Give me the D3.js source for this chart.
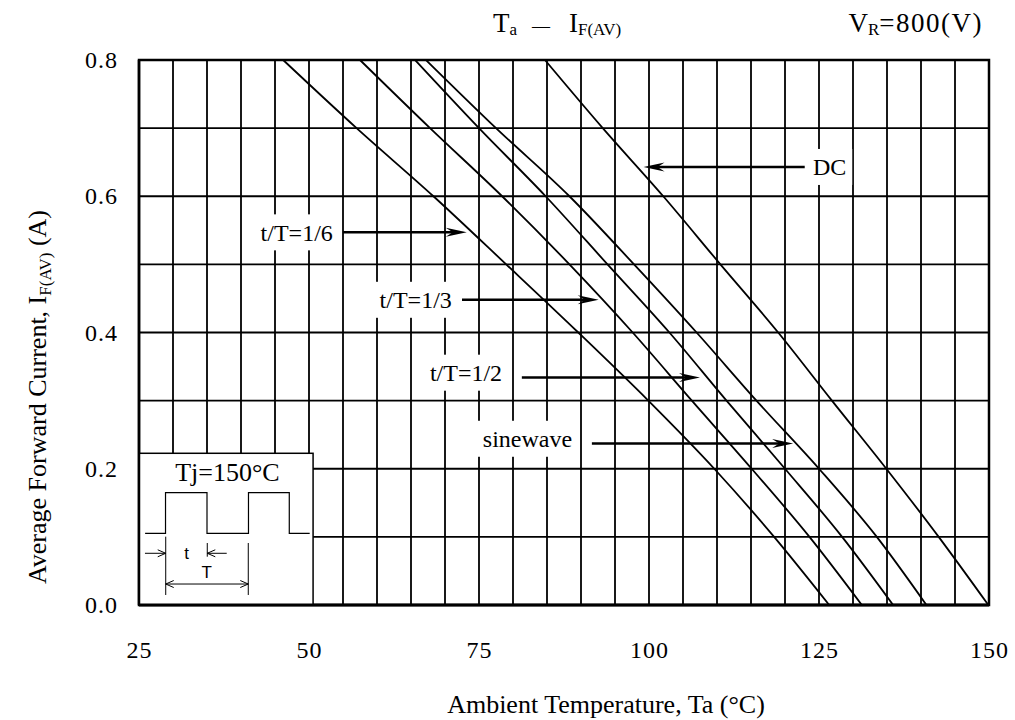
<!DOCTYPE html>
<html>
<head>
<meta charset="utf-8">
<script src="https://d3js.org/d3.v7.min.js"></script>
<title>Ta - IF(AV)</title>
<style>
  body { margin: 0; background: #fff; }
  text { fill: #000; }
</style>
</head>
<body>
<svg id="chart"></svg>
<script>
const serif = "'Liberation Serif', 'Times New Roman', serif";
const sans = "'Liberation Sans', Arial, sans-serif";

// axis ticks and grid
const tempTicks = [25, 50, 75, 100, 125, 150];
const currTicks = [0.0, 0.2, 0.4, 0.6, 0.8];
const tempGrid = [30, 35, 40, 45, 50, 55, 60, 65, 70, 75, 80, 85, 90, 95,
                  100, 105, 110, 115, 120, 125, 130, 135, 140, 145];
const currGrid = [0.1, 0.2, 0.3, 0.4, 0.5, 0.6, 0.7];

// derating curves: Ta (deg C) read at each current level
const currLevels = [0.8, 0.7, 0.6, 0.5, 0.4, 0.3, 0.2, 0.1, 0.0];
const taDuty16 = [46.2, 57.0, 68.3, 79.0, 89.6, 99.9, 109.6, 118.4, 126.5];
const taDuty13 = [57.5, 67.8, 78.4, 88.3, 97.6, 106.3, 115.1, 123.6, 131.3];
const taDuty12 = [65.6, 75.0, 84.8, 93.9, 103.0, 111.4, 120.0, 128.4, 135.9];
const taSine   = [67.2, 77.5, 88.3, 97.8, 107.0, 115.8, 125.0, 133.5, 140.8];
const taDC     = [84.7, 93.2, 102.1, 110.5, 119.0, 126.9, 134.9, 142.6, 149.9];
const curves = [taDuty16, taDuty13, taDuty12, taSine, taDC];

// curve labels with arrows
const labelNames   = ["t/T=1/6", "t/T=1/3", "t/T=1/2", "sinewave", "DC"];
const labelTextI   = [0.547, 0.448, 0.341, 0.244, 0.643];
const labelTextTa  = [53.5, 71.0, 78.4, 88.7, 124.1];
const arrowI       = [0.547, 0.448, 0.334, 0.237, 0.643];
const arrowFromTa  = [55.0, 72.5, 81.3, 91.6, 122.9];
const arrowToTa    = [73.2, 92.6, 107.5, 121.2, 99.2];

// inset: pulse waveform drawn in chart units
const waveTa = [25.9, 28.9, 28.9, 35.0, 35.0, 41.1, 41.1, 47.1, 47.1, 50.1];
const waveI  = [0.105, 0.105, 0.165, 0.165, 0.105, 0.105, 0.165, 0.165, 0.105, 0.105];

const width = 1015, height = 720;
const svg = d3.select("#chart").attr("width", width).attr("height", height)
              .attr("font-family", serif);

const x = d3.scaleLinear().domain([25, 150]).range([139, 989]);
const y = d3.scaleLinear().domain([0, 0.8]).range([605, 60]);

// grid
svg.append("g").selectAll("line").data(tempGrid).join("line")
   .attr("x1", d => x(d)).attr("x2", d => x(d))
   .attr("y1", y(0)).attr("y2", y(0.8))
   .attr("stroke", "#000").attr("stroke-width", 1.8);
svg.append("g").selectAll("line").data(currGrid).join("line")
   .attr("x1", x(25)).attr("x2", x(150))
   .attr("y1", d => y(d)).attr("y2", d => y(d))
   .attr("stroke", "#000").attr("stroke-width", 1.8);

// labels + arrows
const notes = svg.append("g");
const boxes = notes.append("g");
labelNames.forEach((name, i) => {
    const toRight = arrowToTa[i] > arrowFromTa[i];
    const t = notes.append("text")
        .attr("x", x(labelTextTa[i]))
        .attr("y", y(labelTextI[i]))
        .attr("dy", "0.35em")
        .attr("font-size", 24)
        .attr("text-anchor", toRight ? "end" : "start")
        .text(name);
    const b = t.node().getBBox();
    boxes.append("rect")
        .attr("x", b.x - 6).attr("y", y(labelTextI[i]) - 18)
        .attr("width", b.width + 12).attr("height", 36)
        .attr("fill", "#fff");

    const ay = y(arrowI[i]), x0 = x(arrowFromTa[i]), x1 = x(arrowToTa[i]);
    const dir = toRight ? 1 : -1;
    notes.append("line")
        .attr("x1", x0).attr("x2", x1 - dir * 12)
        .attr("y1", ay).attr("y2", ay)
        .attr("stroke", "#000").attr("stroke-width", 2.5);
    notes.append("path")
        .attr("d", `M${x1},${ay} L${x1 - dir * 21},${ay - 4.5} L${x1 - dir * 14},${ay} L${x1 - dir * 21},${ay + 4.5} Z`)
        .attr("fill", "#000");
});

// frame
svg.append("rect")
   .attr("x", x(25)).attr("y", y(0.8))
   .attr("width", x(150) - x(25)).attr("height", y(0) - y(0.8))
   .attr("fill", "none").attr("stroke", "#000").attr("stroke-width", 2.5);

// curves
const line = d3.line().x(d => x(d[0])).y(d => y(d[1])).curve(d3.curveMonotoneX);
svg.append("g").selectAll("path").data(curves).join("path")
   .attr("d", c => line(c.map((t, i) => [t, currLevels[i]])))
   .attr("fill", "none").attr("stroke", "#000").attr("stroke-width", 1.8);

// axes (labels only)
const yAxis = svg.append("g").attr("transform", `translate(${x(25)},0)`)
   .call(d3.axisLeft(y).tickValues(currTicks).tickFormat(d3.format(".1f")).tickSize(0).tickPadding(21));
const xAxis = svg.append("g").attr("transform", `translate(0,${y(0)})`)
   .call(d3.axisBottom(x).tickValues(tempTicks).tickSize(0).tickPadding(36));
[yAxis, xAxis].forEach(a => {
    a.attr("font-family", serif).attr("font-size", 24);
    a.select(".domain").remove();
    a.selectAll("text").attr("letter-spacing", 1);
});

// axis titles
svg.append("text")
   .attr("x", 606).attr("y", 713).attr("text-anchor", "middle")
   .attr("font-size", 26)
   .text("Ambient Temperature, Ta (°C)");

const yl = svg.append("text")
   .attr("transform", "translate(46,397) rotate(-90)")
   .attr("text-anchor", "middle").attr("font-size", 26);
yl.append("tspan").text("Average Forward Current, I");
yl.append("tspan").attr("font-size", 17).attr("dy", 5).text("F(AV)");
yl.append("tspan").attr("dy", -5).text(" (A)");

// chart title
const title = svg.append("text").attr("x", 493).attr("y", 32).attr("font-size", 27);
title.append("tspan").text("T");
title.append("tspan").attr("font-size", 17).attr("dy", 3).text("a");
title.append("tspan").attr("x", 532).attr("dy", -3).attr("font-size", 18).text("—");
title.append("tspan").attr("x", 569).attr("font-size", 27).text("I");
title.append("tspan").attr("font-size", 17).attr("dy", 3).text("F(AV)");

const cond = svg.append("text").attr("x", 983).attr("y", 32)
   .attr("text-anchor", "end").attr("font-size", 27);
cond.append("tspan").text("V");
cond.append("tspan").attr("font-size", 17).attr("dy", 3).text("R");
cond.append("tspan").attr("dy", -3).attr("letter-spacing", 1.5).text("=800(V)");

// inset with Tj and waveform
const inset = svg.append("g");
inset.append("rect")
   .attr("x", x(25)).attr("y", y(0.2227))
   .attr("width", x(50.6) - x(25)).attr("height", y(0) - y(0.2227))
   .attr("fill", "#fff").attr("stroke", "#000").attr("stroke-width", 1.5);
svg.append("line")
   .attr("x1", x(25)).attr("x2", x(150)).attr("y1", y(0)).attr("y2", y(0))
   .attr("stroke", "#000").attr("stroke-width", 3);
svg.append("line")
   .attr("x1", x(25)).attr("x2", x(25)).attr("y1", y(0.8)).attr("y2", y(0))
   .attr("stroke", "#000").attr("stroke-width", 2.5);

inset.append("text")
   .attr("x", x(38.0)).attr("y", y(0.182)).attr("text-anchor", "middle")
   .attr("font-size", 26).text("Tj=150°C");
inset.append("path")
   .attr("d", d3.line().x(d => x(d[0])).y(d => y(d[1]))(waveTa.map((t, i) => [t, waveI[i]])))
   .attr("fill", "none").attr("stroke", "#000").attr("stroke-width", 1.2);

const thin = s => s.attr("stroke", "#000").attr("stroke-width", 1).attr("fill", "none");
function vline(t, i0, i1) {
    inset.append("line").attr("x1", x(t)).attr("x2", x(t)).attr("y1", y(i0)).attr("y2", y(i1)).call(thin);
}
vline(28.93, 0.1003, 0.0147);
vline(35.04, 0.091, 0.0709);
vline(41.07, 0.091, 0.0147);

function openArrow(t0, t1, i, headAtStart) {
    const x0 = x(t0), x1 = x(t1), yy = y(i);
    inset.append("line").attr("x1", x0).attr("x2", x1).attr("y1", yy).attr("y2", yy).call(thin);
    const head = (px, dir) => inset.append("path")
        .attr("d", `M${px - dir * 8},${yy - 3.5} L${px},${yy} L${px - dir * 8},${yy + 3.5}`).call(thin);
    head(x1, Math.sign(x1 - x0));
    if (headAtStart) head(x0, Math.sign(x0 - x1));
}
openArrow(25.88, 28.93, 0.0759, false);
openArrow(37.9, 35.04, 0.0759, false);
openArrow(28.93, 41.07, 0.0308, true);

inset.append("text").attr("x", x(32.0)).attr("y", y(0.0759)).attr("dy", "0.36em")
   .attr("text-anchor", "middle").attr("font-family", sans)
   .attr("font-size", 17).text("t");
inset.append("text").attr("x", x(34.96)).attr("y", y(0.0484)).attr("dy", "0.36em")
   .attr("text-anchor", "middle").attr("font-family", sans)
   .attr("font-size", 17).text("T");
</script>
</body>
</html>
